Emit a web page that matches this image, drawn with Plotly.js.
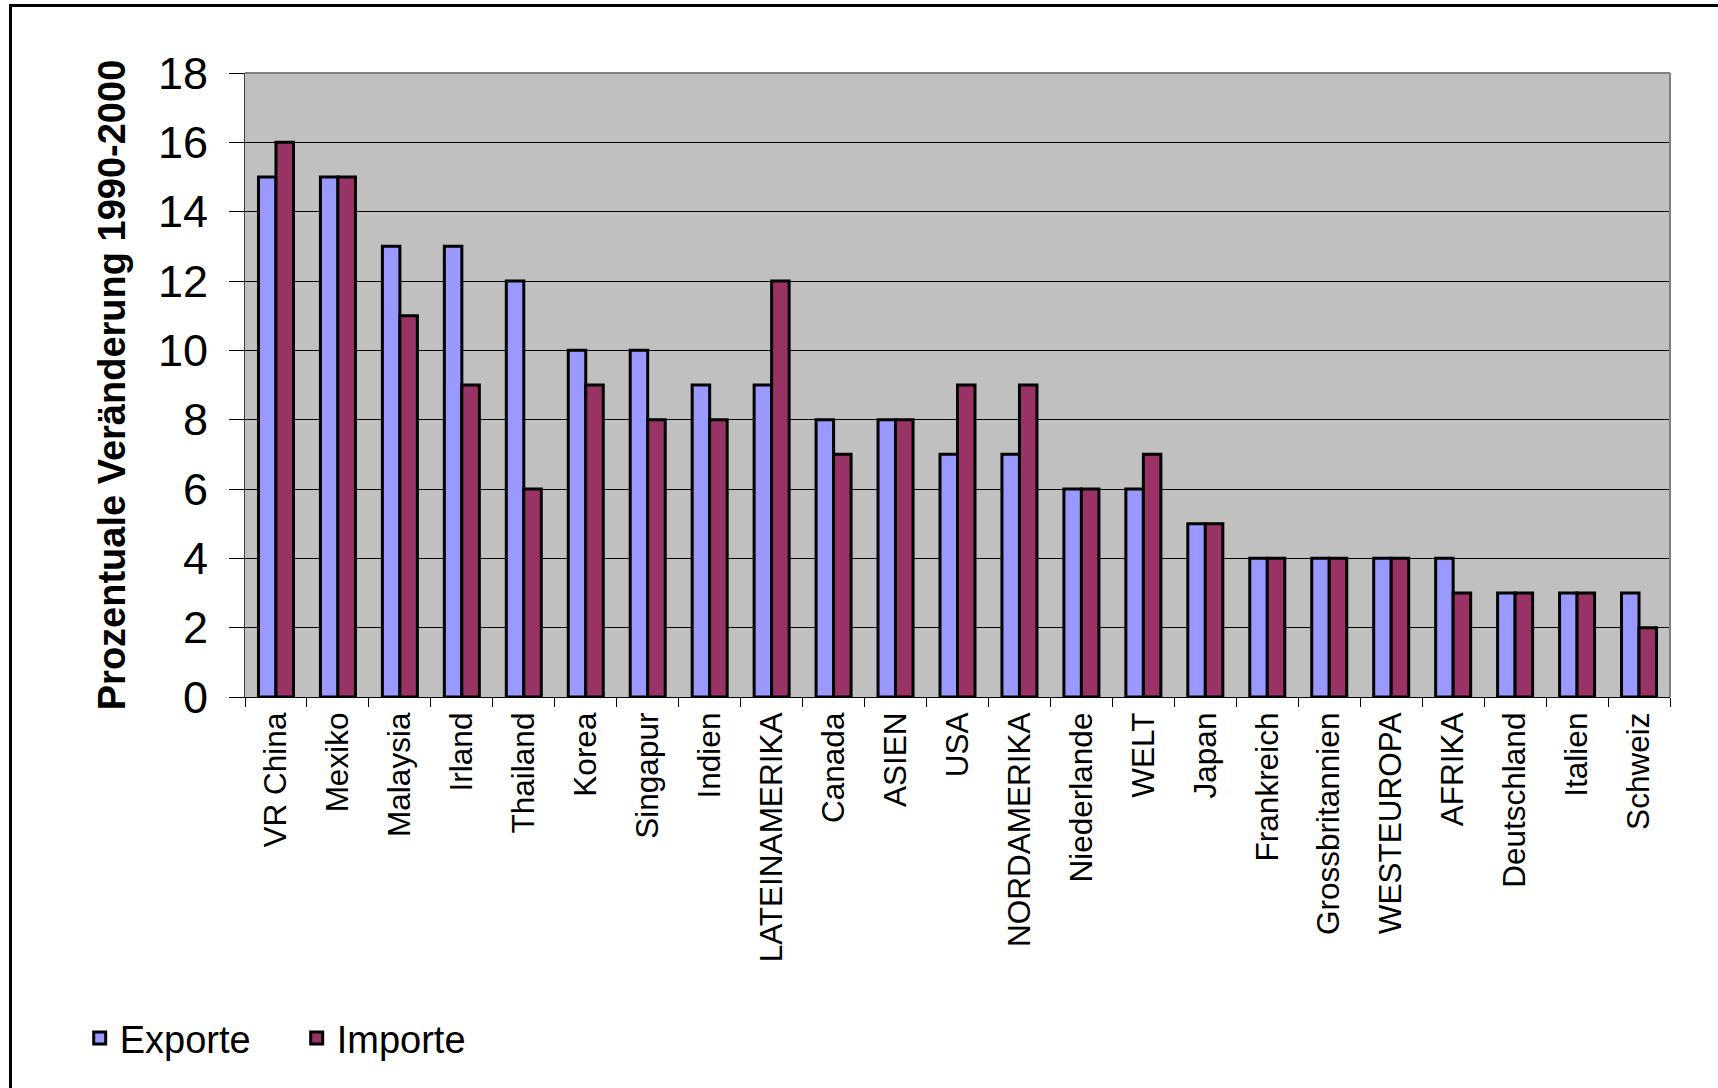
<!DOCTYPE html>
<html>
<head>
<meta charset="utf-8">
<script src="https://cdn.plot.ly/plotly-3.0.1.min.js"></script>
<style>
  html, body { margin: 0; padding: 0; background: #ffffff; overflow: hidden; }
  #chart { width: 1718px; height: 1088px; position: absolute; left: 0; top: 0; }
  #frame { position: absolute; left: 9px; top: 4px; width: 1800px; height: 1200px;
           border: 3px solid #000; pointer-events: none; box-sizing: border-box; }
</style>
</head>
<body>
<div id="chart"></div>
<div id="frame"></div>
<script>
const categories = ["VR China", "Mexiko", "Malaysia", "Irland", "Thailand", "Korea", "Singapur",
  "Indien", "LATEINAMERIKA", "Canada", "ASIEN", "USA", "NORDAMERIKA", "Niederlande", "WELT",
  "Japan", "Frankreich", "Grossbritannien", "WESTEUROPA", "AFRIKA", "Deutschland", "Italien", "Schweiz"];
const exporte = [15, 15, 13, 13, 12, 10, 10, 9, 9, 8, 8, 7, 7, 6, 6, 5, 4, 4, 4, 4, 3, 3, 3];
const importe = [16, 15, 11, 9, 6, 9, 8, 8, 12, 7, 8, 9, 9, 6, 7, 5, 4, 4, 4, 3, 3, 3, 2];
const yTicks = [0, 2, 4, 6, 8, 10, 12, 14, 16, 18];

const font = "Liberation Sans, Arial, sans-serif";

const traces = [
  { type: "bar", name: "Exporte", x: categories, y: exporte,
    marker: { color: "#9999FF", line: { color: "#000000", width: 3 } } },
  { type: "bar", name: "Importe", x: categories, y: importe,
    marker: { color: "#993366", line: { color: "#000000", width: 3 } } }
];

const layout = {
  width: 1718, height: 1088,
  margin: { l: 245, r: 48, t: 73, b: 391 },
  paper_bgcolor: "#ffffff",
  plot_bgcolor: "#C0C0C0",
  barmode: "group",
  bargap: 0.435,
  bargroupgap: 0,
  font: { family: font, color: "#000000" },
  showlegend: true,
  legend: {
    orientation: "h", x: -0.116, xanchor: "left", y: -0.547, yanchor: "middle",
    font: { family: font, size: 38, color: "#000000" },
    bgcolor: "rgba(0,0,0,0)", borderwidth: 0,
    entrywidth: 172, entrywidthmode: "pixels", traceorder: "normal"
  },
  xaxis: {
    type: "category", tickangle: -90, tickson: "boundaries",
    ticks: "outside", ticklen: 9, tickcolor: "#000000", tickwidth: 1,
    showline: true, linecolor: "#000000", linewidth: 1,
    showgrid: false, tickfont: { family: font, size: 31.5, color: "#000000" },
    ticklabelstandoff: 2,
    fixedrange: true
  },
  yaxis: {
    range: [0, 18], tickvals: yTicks, ticktext: yTicks.map(String),
    ticks: "outside", ticklen: 15, tickcolor: "#000000", tickwidth: 1,
    showline: true, linecolor: "#404040", linewidth: 1,
    showgrid: true, gridcolor: "#000000", gridwidth: 1, zeroline: false,
    tickfont: { family: font, size: 45, color: "#000000" },
    ticklabelstandoff: 12,
    title: { text: "<b>Prozentuale Veränderung 1990-2000</b>", standoff: 20,
             font: { family: font, size: 38, color: "#000000" } },
    fixedrange: true
  },
  shapes: [
    { type: "line", xref: "paper", yref: "paper", x0: 0, x1: 1, y0: 1, y1: 1,
      line: { color: "#808080", width: 2 }, layer: "above" },
    { type: "line", xref: "paper", yref: "paper", x0: 1, x1: 1, y0: 0, y1: 1,
      line: { color: "#808080", width: 2 }, layer: "above" }
  ]
};

Plotly.newPlot("chart", traces, layout, { displayModeBar: false, staticPlot: true });
</script>
</body>
</html>
